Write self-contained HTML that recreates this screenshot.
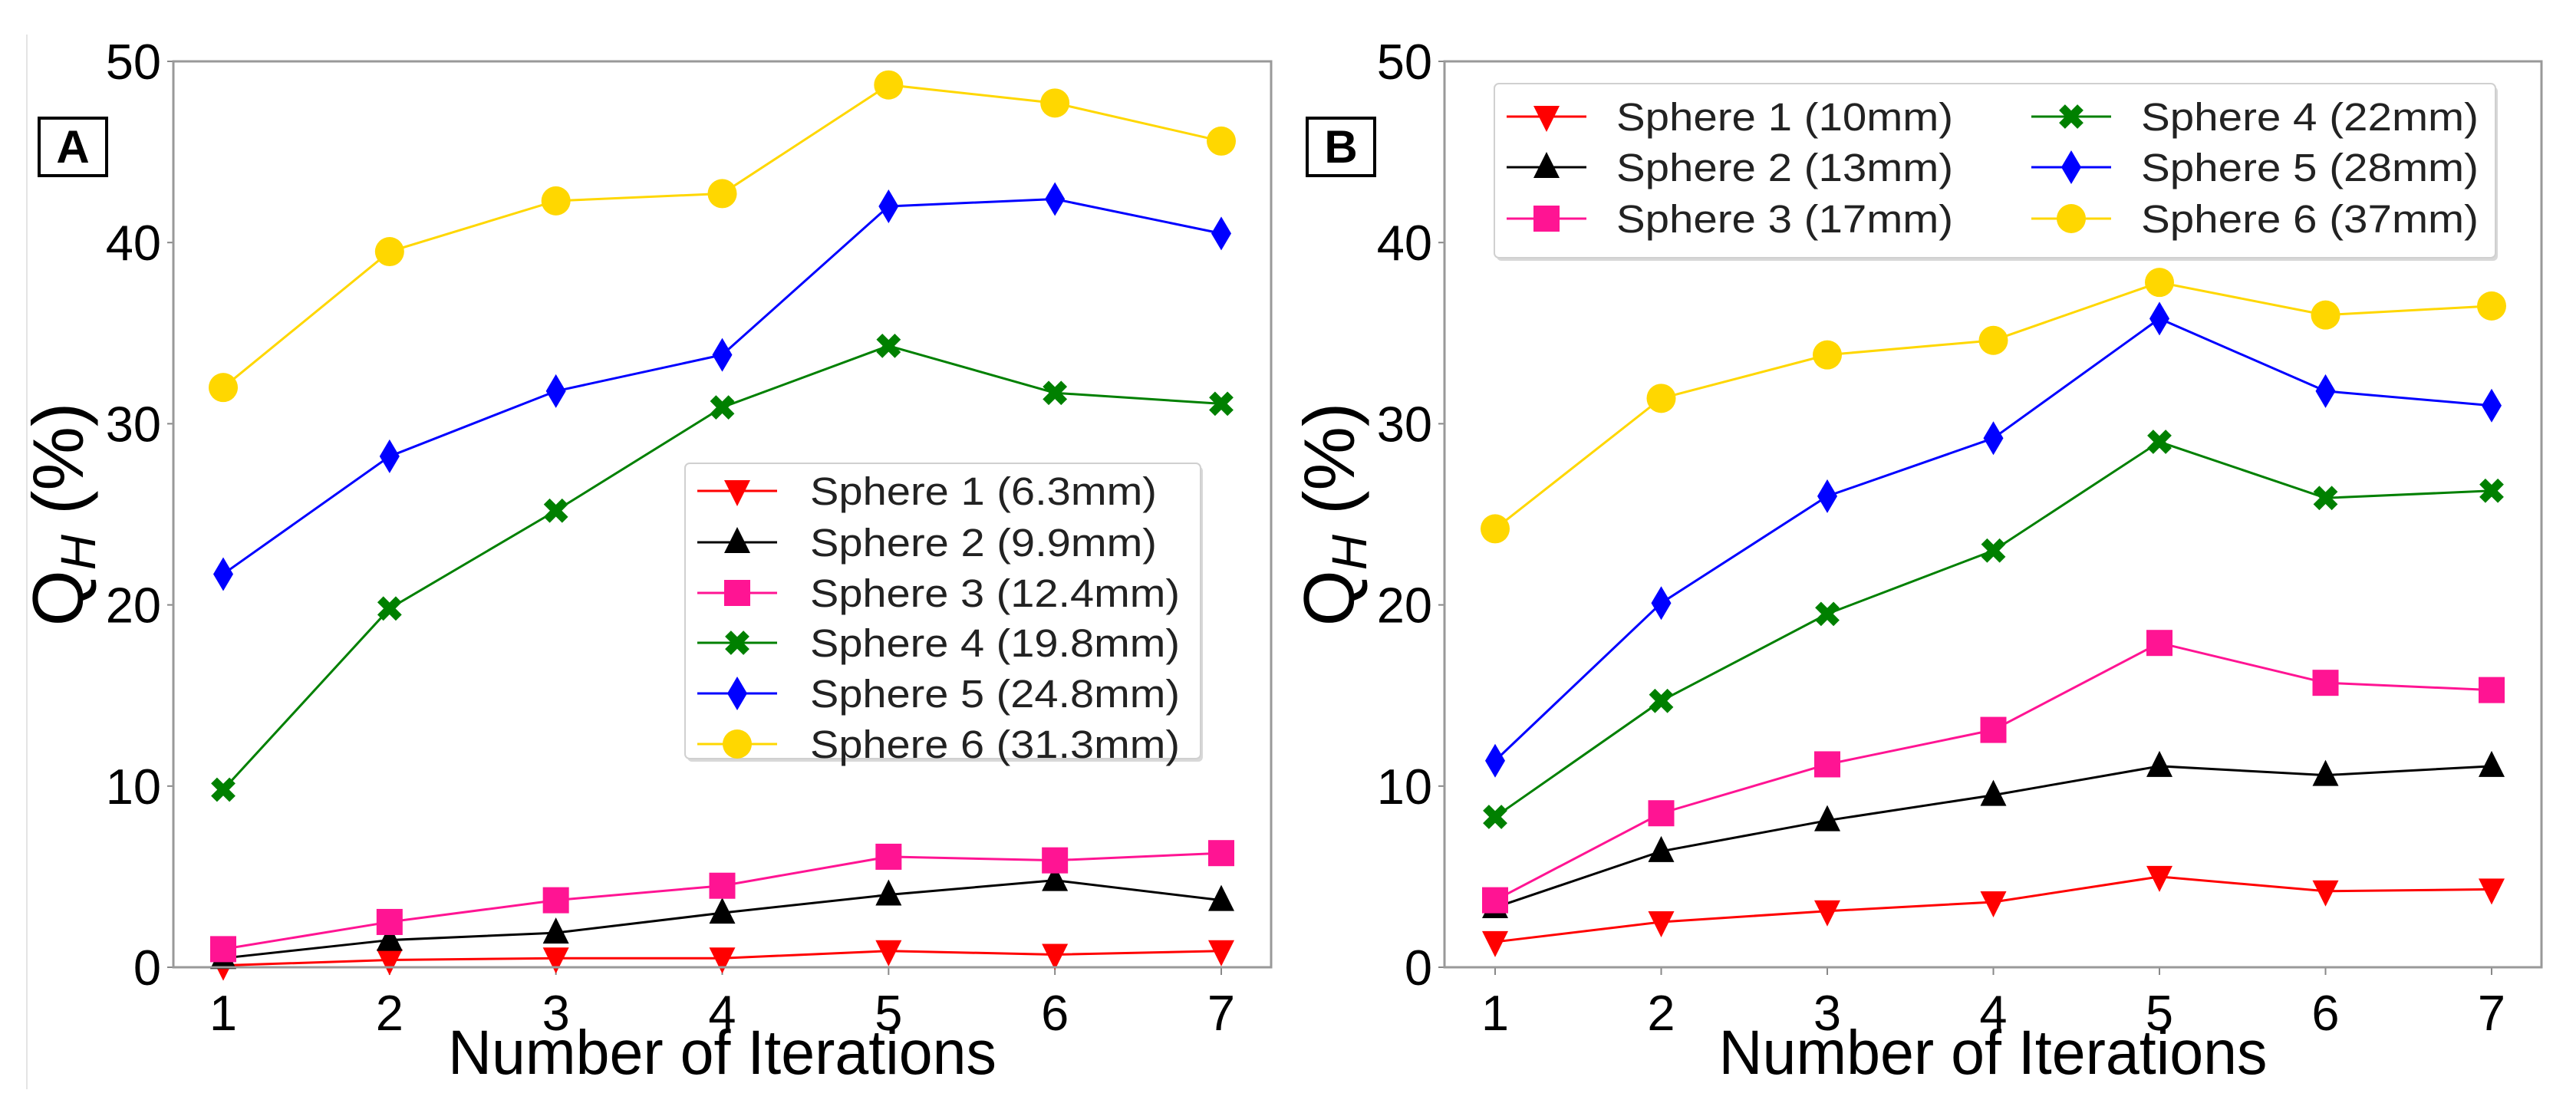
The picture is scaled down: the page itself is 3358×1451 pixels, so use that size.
<!DOCTYPE html>
<html><head><meta charset="utf-8">
<style>
html,body{margin:0;padding:0;background:#fff;}
svg{display:block;font-family:"Liberation Sans","DejaVu Sans",sans-serif;}
</style></head>
<body>
<svg id="fig" width="3358" height="1451" viewBox="0 0 3358 1451" xmlns="http://www.w3.org/2000/svg">
<rect x="0" y="0" width="3358" height="1451" fill="#fff"/>
<line x1="35" y1="45" x2="35" y2="1420" stroke="#e4e4e4" stroke-width="2"/>
</svg>
<script>
const iterations = [1,2,3,4,5,6,7];
const yTicks = [0,10,20,30,40,50];
const namesA = ["Sphere 1 (6.3mm)","Sphere 2 (9.9mm)","Sphere 3 (12.4mm)","Sphere 4 (19.8mm)","Sphere 5 (24.8mm)","Sphere 6 (31.3mm)"];
const namesB = ["Sphere 1 (10mm)","Sphere 2 (13mm)","Sphere 3 (17mm)","Sphere 4 (22mm)","Sphere 5 (28mm)","Sphere 6 (37mm)"];
const a1 = [0.1,0.4,0.5,0.5,0.9,0.7,0.9];
const a2 = [0.5,1.5,1.9,3.0,4.0,4.8,3.7];
const a3 = [1.0,2.5,3.7,4.5,6.1,5.9,6.3];
const a4 = [9.8,19.8,25.2,30.9,34.3,31.7,31.1];
const a5 = [21.7,28.2,31.8,33.8,42.0,42.4,40.5];
const a6 = [32.0,39.5,42.3,42.7,48.7,47.7,45.6];
const b1 = [1.4,2.5,3.1,3.6,5.0,4.2,4.3];
const b2 = [3.3,6.4,8.1,9.5,11.1,10.6,11.1];
const b3 = [3.7,8.5,11.2,13.1,17.9,15.7,15.3];
const b4 = [8.3,14.7,19.5,23.0,29.0,25.9,26.3];
const b5 = [11.4,20.1,26.0,29.2,35.8,31.8,31.0];
const b6 = [24.2,31.4,33.8,34.6,37.8,36.0,36.5];

const NS="http://www.w3.org/2000/svg";
const svg=document.getElementById('fig');
const colors=["#ff0000","#000000","#ff1493","#008000","#0000ff","#ffd700"];
const markers=["tri-down","tri-up","square","x","diamond","circle"];

function mk(tag,attrs,parent){const e=document.createElementNS(NS,tag);for(const k in attrs)e.setAttribute(k,attrs[k]);(parent||svg).appendChild(e);return e;}

function drawMarker(g,type,cx,cy,color,name){
  let e;
  if(type==="circle"){e=mk('circle',{cx:cx,cy:cy,r:19,fill:color},g);}
  else if(type==="square"){e=mk('rect',{x:cx-17,y:cy-17,width:34,height:34,fill:color},g);}
  else if(type==="tri-up"){e=mk('polygon',{points:`${cx},${cy-20} ${cx-17},${cy+14} ${cx+17},${cy+14}`,fill:color},g);}
  else if(type==="tri-down"){e=mk('polygon',{points:`${cx},${cy+20} ${cx-17},${cy-14} ${cx+17},${cy-14}`,fill:color},g);}
  else if(type==="diamond"){e=mk('polygon',{points:`${cx},${cy-22} ${cx+13},${cy} ${cx},${cy+22} ${cx-13},${cy}`,fill:color},g);}
  else {e=mk('path',{d:`M${cx-12},${cy-12}L${cx+12},${cy+12}M${cx+12},${cy-12}L${cx-12},${cy+12}`,stroke:color,'stroke-width':11,fill:'none'},g);}
  
  
}

function panel(cfg){
  const g=mk('g',{});
  
  
  const xs=v=>cfg.x1+(v-1)*(cfg.x7-cfg.x1)/6;
  const ys=v=>cfg.bottom-(v/50)*(cfg.bottom-cfg.top);
  yTicks.forEach(t=>{
    const y=ys(t);
    const tk=mk('line',{x1:cfg.left-8,y1:y,x2:cfg.left,y2:y,stroke:'#888','stroke-width':2},g);
    
    
    const tl=mk('text',{x:cfg.left-16,y:y+23,'font-size':65,'text-anchor':'end',fill:'#000'},g);
    tl.textContent=t;
    
    
  });
  iterations.forEach(t=>{
    const x=xs(t);
    const tk=mk('line',{x1:x,y1:cfg.bottom,x2:x,y2:cfg.bottom+10,stroke:'#888','stroke-width':2},g);
    
    
    const tl=mk('text',{x:x,y:cfg.bottom+82,'font-size':65,'text-anchor':'middle',fill:'#000'},g);
    tl.textContent=t;
    
    
  });
  cfg.series.forEach((s,i)=>{
    const sg=mk('g',{},g);
    
    
    const pts=s.map((v,j)=>xs(iterations[j])+','+ys(v)).join(' ');
    const pl=mk('polyline',{points:pts,fill:'none',stroke:colors[i],'stroke-width':3},sg);
    
    
    s.forEach((v,j)=>drawMarker(sg,markers[i],xs(iterations[j]),ys(v),colors[i],'point-sphere-'+(i+1)));
  });
  const fr=mk('rect',{x:cfg.left,y:cfg.top,width:cfg.right-cfg.left,height:cfg.bottom-cfg.top,fill:'none',stroke:'#999','stroke-width':3},g);
  
  
  const xt=mk('text',{x:(cfg.left+cfg.right)/2,y:1400,'font-size':82,'text-anchor':'middle',fill:'#000',textLength:715,lengthAdjust:'spacingAndGlyphs'},g);
  xt.textContent='Number of Iterations';
  
  
  const yt=mk('text',{x:0,y:0,'font-size':94,'text-anchor':'middle',fill:'#000',transform:`translate(${cfg.left-118},${(cfg.top+cfg.bottom)/2}) rotate(-90)`},g);
  
  
  const q=document.createElementNS(NS,'tspan');q.textContent='Q';yt.appendChild(q);
  const h=document.createElementNS(NS,'tspan');h.setAttribute('font-size','64');h.setAttribute('font-style','italic');h.setAttribute('dy','16');h.textContent='H';yt.appendChild(h);
  const rest=document.createElementNS(NS,'tspan');rest.setAttribute('dy','-16');rest.textContent=' (%)';yt.appendChild(rest);
  const lb=mk('rect',{x:cfg.lx,y:154,width:88,height:75,fill:'#fff',stroke:'#000','stroke-width':4},g);
  
  
  const lt=mk('text',{x:cfg.lx+44,y:212,'font-size':60,'font-weight':'bold','text-anchor':'middle',fill:'#000'},g);
  lt.textContent=cfg.letter;
  
  
  const L=cfg.legend;
  const lg=mk('g',{},g);
  
  
  mk('rect',{x:L.x+3,y:L.y+4,width:L.w,height:L.h,rx:6,fill:'#d8d8d8'},lg);
  mk('rect',{x:L.x,y:L.y,width:L.w,height:L.h,rx:6,fill:'#fff',stroke:'#d0d0d0','stroke-width':2},lg);
  cfg.names.forEach((n,i)=>{
    const p=L.pos(i);
    const eg=mk('g',{},lg);
    
    
    mk('line',{x1:p.lx,y1:p.y,x2:p.lx+104,y2:p.y,stroke:colors[i],'stroke-width':3},eg);
    drawMarker(eg,markers[i],p.lx+52,p.y,colors[i],'legend-marker');
    const t=mk('text',{x:p.tx,y:p.y+18,'font-size':51,fill:'#222',textLength:p.tl,lengthAdjust:'spacingAndGlyphs'},eg);
    t.textContent=n;
    
    
  });
}

const rowsA=[640,707,773,838,904,970];
panel({id:'panel-a',letter:'A',lx:51,left:226,right:1657,top:80,bottom:1261,x1:291,x7:1592,
  series:[a1,a2,a3,a4,a5,a6],names:namesA,
  legend:{x:893,y:604,w:672,h:385,pos:i=>({lx:909,y:rowsA[i],tx:1056,tl:(i<2?452:482)})}});
const rowsB=[152,218,285];
panel({id:'panel-b',letter:'B',lx:1704,left:1883,right:3313,top:80,bottom:1261,x1:1949,x7:3248,
  series:[b1,b2,b3,b4,b5,b6],names:namesB,
  legend:{x:1948,y:109,w:1305,h:227,pos:i=>(i<3?{lx:1964,y:rowsB[i],tx:2107,tl:439}:{lx:2648,y:rowsB[i-3],tx:2791,tl:440})}});
</script>
</body></html>
